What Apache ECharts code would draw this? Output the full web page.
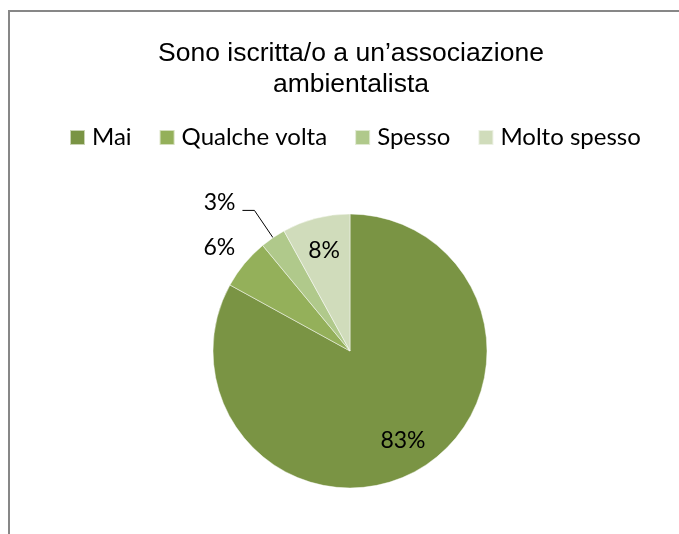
<!DOCTYPE html>
<html>
<head>
<meta charset="utf-8">
<script src="https://cdn.jsdelivr.net/npm/echarts@6/dist/echarts.min.js"></script>
<style>
html,body{margin:0;padding:0;background:#fff;}
#chart{width:679px;height:534px;}
</style>
</head>
<body>
<div id="chart"></div>
<script>
var titleText = 'Sono iscritta/o a un\u2019associazione\nambientalista';
var categories = ['Mai', 'Qualche volta', 'Spesso', 'Molto spesso'];
var values = [83, 6, 3, 8];
var colors = ['#7A9444', '#94B05A', '#B0C98B', '#D0DCBB'];

var chart = echarts.init(document.getElementById('chart'), null, {renderer: 'canvas'});

var labelFont = {fontFamily: 'Lato', fontSize: 23, color: '#000'};

var mainData = categories.map(function (c, i) {
  var d = {name: c, value: values[i], itemStyle: {color: colors[i]}};
  if (i === 1) {
    d.label = {show: true, position: 'outside', distanceToLabelLine: -10};
    d.labelLine = {show: false, length: 25, length2: 0};
  } else if (i === 2) {
    d.label = {show: true, position: 'outside', distanceToLabelLine: 7, formatter: '{c}%\n ', lineHeight: 15};
    d.labelLine = {show: true, length: 33, length2: 12, lineStyle: {color: '#000', width: 1}};
  } else {
    d.label = {show: false};
    d.labelLine = {show: false};
  }
  return d;
});

var innerData = categories.map(function (c, i) {
  return {
    name: c, value: values[i],
    label: {show: (i === 0 || i === 3)}
  };
});

chart.setOption({
  animation: false,
  backgroundColor: '#fff',
  title: {
    text: titleText,
    left: 346,
    textAlign: 'center',
    top: 33,
    textStyle: {fontFamily: 'Liberation Sans', fontSize: 26.5, fontWeight: 'normal', color: '#000', lineHeight: 31}
  },
  legend: {
    data: categories,
    left: 69,
    top: 125,
    padding: 0,
    itemWidth: 15,
    itemHeight: 15,
    itemGap: 27,
    icon: 'rect',
    textStyle: {fontFamily: 'Lato', fontSize: 24, color: '#000', lineHeight: 25, padding: [0, 0, 0, 2]}
  },
  graphic: [
    {type: 'polyline', silent: true, shape: {points: [[9, 534], [9, 11], [679, 11]]}, style: {stroke: '#878787', lineWidth: 2, fill: null}}
  ],
  series: [
    {
      type: 'pie',
      center: [350, 351],
      radius: [0, 137],
      startAngle: 90,
      clockwise: true,
      avoidLabelOverlap: false,
      silent: true,
      itemStyle: {borderColor: 'rgba(255,255,255,0.6)', borderWidth: 0.8},
      label: Object.assign({formatter: '{c}%'}, labelFont),
      emphasis: {disabled: true},
      data: mainData
    },
    {
      type: 'pie',
      center: [350, 351],
      radius: [65, 137],
      startAngle: 90,
      clockwise: true,
      avoidLabelOverlap: false,
      silent: true,
      itemStyle: {color: 'rgba(0,0,0,0)'},
      label: Object.assign({position: 'inside', formatter: '{c}%'}, labelFont),
      labelLine: {show: false},
      emphasis: {disabled: true},
      data: innerData
    }
  ]
});
</script>
</body>
</html>
